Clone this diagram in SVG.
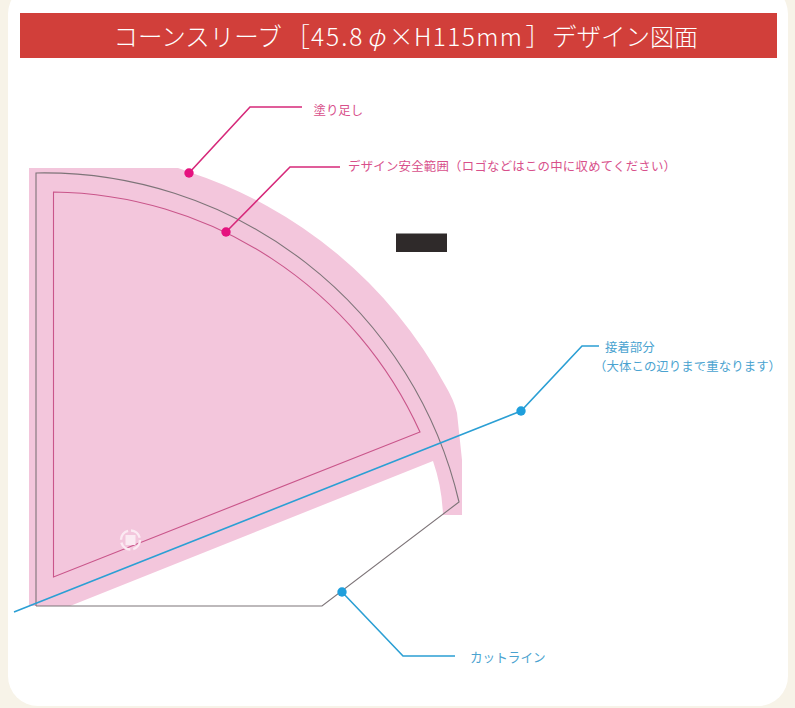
<svg xmlns="http://www.w3.org/2000/svg" width="795" height="708" viewBox="0 0 795 708">
<style>
text{font-family:"Noto Sans CJK JP","Noto Sans",sans-serif}
.m{fill:#d8508b;font-size:12.4px}
.b{fill:#4aa3d0;font-size:12.4px}
.lm{fill:none;stroke:#d6297a;stroke-width:1.6}
.lb{fill:none;stroke:#2b9fd4;stroke-width:1.6}
.dm{fill:#e5127f}
.db{fill:#1f9fdc}
.lat{letter-spacing:2px}
.lat2{letter-spacing:1.4px}
</style>
<rect width="795" height="708" fill="#f7f3e8"/>
<rect x="8" y="-16" width="780" height="722" rx="30" fill="#fff"/>
<g id="header">
<rect x="20" y="13" width="757" height="45" fill="#d13f3a"/>
<text y="45.500" font-size="24.500" font-weight="300" fill="#fff"><tspan x="113.500">コーンスリーブ</tspan><tspan x="285.500">［</tspan><tspan x="311" class="lat">45.8</tspan><tspan x="367" font-style="italic">φ</tspan><tspan x="389">×</tspan><tspan x="414" class="lat2">H115mm</tspan><tspan x="525.500">］</tspan><tspan x="552">デザイン</tspan><tspan x="650" font-size="24">図面</tspan></text>
</g>
<g id="sleeve">
<path id="bleed" d="M29 168H178Q184 170 189 172A451 451 0 0 1 445 385Q454 400 457 413L462 460V515H443Q442 487 433 461L70 606H29Z" fill="#f3c6dc"/>
<path id="cut-line" d="M36 606V173A426 426 0 0 1 459 502L322 606H36" fill="none" stroke="#7d7478" stroke-width="1.1"/>
<path id="safe-area" d="M53.500 577V192A408 408 0 0 1 420 432Z" fill="none" stroke="#c9558a" stroke-width="1.1"/>
<g id="logo-mark">
<circle cx="130.500" cy="540" r="9.500" fill="none" stroke="#fbeaf2" stroke-width="2.400" stroke-dasharray="12 3"/>
<rect x="125.500" y="535" width="10" height="10" fill="#fbeaf2"/>
</g>
</g>
<rect id="black-bar" x="396" y="233.500" width="51" height="18.500" fill="#2f2a2a"/>
<g id="connectors">
<path class="lm" d="M189 173L250 107H302"/>
<path class="lm" d="M226 232L290 167H340"/>
<path class="lb" d="M14 612L521 411L582 346H599"/>
<path class="lb" d="M342 592L403 656H455"/>
<circle class="dm" cx="189" cy="173" r="4.700"/>
<circle class="dm" cx="226" cy="232" r="4.700"/>
<circle class="db" cx="521" cy="411" r="4.700"/>
<circle class="db" cx="342" cy="592" r="4.700"/>
</g>
<g id="label-bleed"><text class="m" x="313.500" y="114.500">塗り足し</text></g>
<g id="label-safe"><text class="m" x="348" y="171" textLength="328" lengthAdjust="spacing">デザイン安全範囲（ロゴなどはこの中に収めてください）</text></g>
<g id="label-glue">
<text class="b" x="605" y="351.500">接着部分</text>
<text class="b" x="594" y="370.500" textLength="187" lengthAdjust="spacing">（大体この辺りまで重なります）</text>
</g>
<g id="label-cut"><text class="b" x="470" y="661.500" style="font-size:12.600px">カットライン</text></g>
</svg>
